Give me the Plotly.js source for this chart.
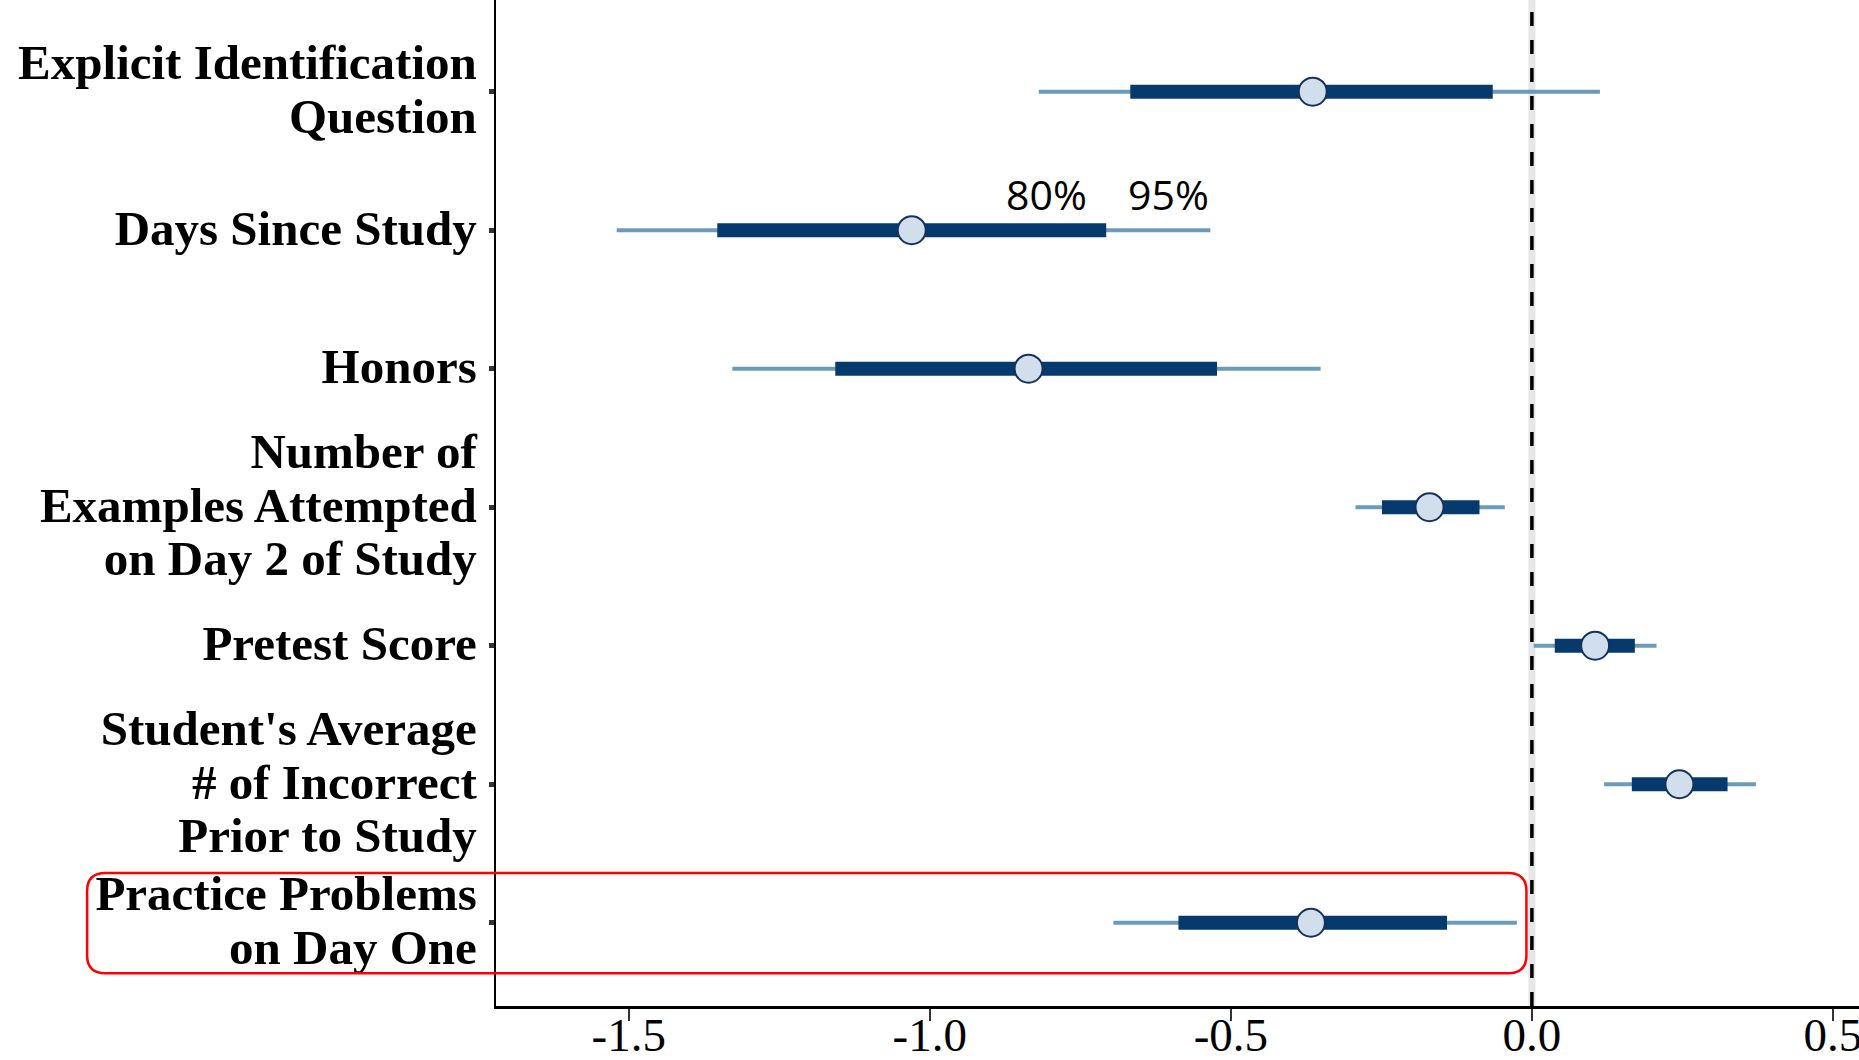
<!DOCTYPE html>
<html>
<head>
<meta charset="utf-8">
<script src="https://cdn.plot.ly/plotly-3.0.1.min.js"></script>
<style>
  html, body { margin: 0; padding: 0; background: #ffffff; }
  #chart { width: 1859px; height: 1060px; }
</style>
</head>
<body>
<div id="chart"></div>
<script>
// ---- Data (top row first) ----
const categories = [
  "Explicit Identification<br>Question",
  "Days Since Study",
  "Honors",
  "Number of<br>Examples Attempted<br>on Day 2 of Study",
  "Pretest Score",
  "Student's Average<br># of Incorrect<br>Prior to Study",
  "Practice Problems<br>on Day One"
];
const estimate  = [-0.364, -1.030, -0.836, -0.170, 0.105, 0.245, -0.367];
const ci80Low   = [-0.667, -1.353, -1.157, -0.249, 0.038, 0.166, -0.587];
const ci80High  = [-0.065, -0.707, -0.523, -0.087, 0.171, 0.325, -0.141];
const ci95Low   = [-0.819, -1.520, -1.328, -0.293, 0.003, 0.120, -0.695];
const ci95High  = [ 0.113, -0.534, -0.351, -0.045, 0.207, 0.372, -0.025];
const xTickVals = [-1.5, -1.0, -0.5, 0.0, 0.5];
const xTickText = ["-1.5", "-1.0", "-0.5", "0.0", "0.5"];
const ciLabels  = ["80%", "95%"];
const highlightedRow = 6;

// ---- Build traces ----
const n = categories.length;
const pos = categories.map((c, i) => n - i);

function segs(lo, hi) {
  const x = [], y = [];
  lo.forEach((v, i) => { x.push(v, hi[i], null); y.push(pos[i], pos[i], null); });
  return {x, y};
}
const s95 = segs(ci95Low, ci95High);
const s80 = segs(ci80Low, ci80High);

const traces = [
  { type: 'scatter', mode: 'lines', x: s95.x, y: s95.y,
    line: { color: '#6b9bb8', width: 4 }, hoverinfo: 'skip', connectgaps: false },
  { type: 'scatter', mode: 'lines', x: s80.x, y: s80.y,
    line: { color: '#063a6d', width: 14 }, hoverinfo: 'skip', connectgaps: false },
  { type: 'scatter', mode: 'markers', x: estimate, y: pos,
    marker: { size: 28, color: '#d0dfeb', line: { color: '#16325c', width: 2 } },
    hoverinfo: 'skip' }
];

const tickText = categories.map(c =>
  c.split('<br>').map(l => '<span style="font-size:49px">' + l + '</span>').join('<br>'));

// highlight box (rounded) around the last row
const hy = pos[highlightedRow];
const bx0 = -0.300, bx1 = 0.756, by0 = hy - 0.365, by1 = hy + 0.36;
const rx = 0.0135, ry = 0.13;
const boxPath =
  `M ${bx0 + rx},${by1} L ${bx1 - rx},${by1} Q ${bx1},${by1} ${bx1},${by1 - ry} ` +
  `L ${bx1},${by0 + ry} Q ${bx1},${by0} ${bx1 - rx},${by0} ` +
  `L ${bx0 + rx},${by0} Q ${bx0},${by0} ${bx0},${by0 + ry} ` +
  `L ${bx0},${by1 - ry} Q ${bx0},${by1} ${bx0 + rx},${by1} Z`;

const layout = {
  width: 1859, height: 1060,
  margin: { l: 496, r: 0, t: 0, b: 54, pad: 0 },
  paper_bgcolor: '#ffffff', plot_bgcolor: '#ffffff',
  showlegend: false, hovermode: false,
  xaxis: {
    range: [-1.7205, 0.5433], showgrid: false, zeroline: false,
    showline: true, linecolor: '#000000', linewidth: 3,
    ticks: 'outside', ticklen: 12, tickwidth: 1.5, tickcolor: '#333333',
    tickvals: xTickVals, ticktext: xTickText, ticklabelstandoff: -26,
    ticklabeloverflow: 'allow',
    tickfont: { family: 'Liberation Serif', size: 47, color: '#000000' }
  },
  yaxis: {
    range: [0.399, 7.662], showgrid: false, zeroline: false,
    showline: true, linecolor: '#000000', linewidth: 2,
    ticks: 'outside', ticklen: 5, tickwidth: 5, tickcolor: '#333333',
    tickvals: pos, ticktext: tickText, ticklabelstandoff: 4,
    tickfont: { family: 'Liberation Serif', size: 41, weight: 'bold', color: '#000000' }
  },
  shapes: [
    { type: 'line', xref: 'x', yref: 'paper', x0: 0, x1: 0, y0: 0, y1: 1, layer: 'below',
      line: { color: '#e6e6e6', width: 7 } },
    { type: 'line', xref: 'x', yref: 'paper', x0: 0, x1: 0, y0: 0, y1: 0.99, layer: 'below',
      line: { color: '#000000', width: 3.5, dash: '14px,14px' } },
    { type: 'path', xref: 'paper', yref: 'y', path: boxPath, layer: 'above',
      line: { color: '#ff0000', width: 2.5 }, fillcolor: 'rgba(0,0,0,0)' }
  ],
  annotations: [
    { xref: 'x', yref: 'y', x: -0.807, y: pos[1], yshift: 36, text: ciLabels[0], showarrow: false,
      font: { family: 'Open Sans', size: 41, color: '#000000' } },
    { xref: 'x', yref: 'y', x: -0.604, y: pos[1], yshift: 36, text: ciLabels[1], showarrow: false,
      font: { family: 'Open Sans', size: 41, color: '#000000' } }
  ]
};

Plotly.newPlot('chart', traces, layout, { staticPlot: true, displayModeBar: false });
</script>
</body>
</html>
